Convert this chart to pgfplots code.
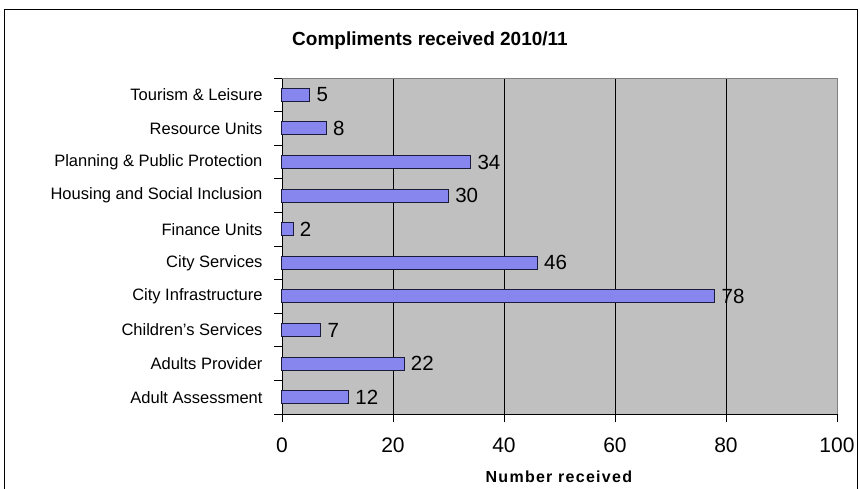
\documentclass[border=0pt]{standalone}
\usepackage{pgfplots}
\pgfplotsset{compat=1.18}
\usepackage{fontspec}
\setmainfont{Liberation Sans}
\definecolor{plotbg}{HTML}{C0C0C0}
\definecolor{barmid}{HTML}{ACACFF}
\definecolor{baredge}{HTML}{8686EE}
\definecolor{barline}{HTML}{1A1A3A}
\begin{document}
\begin{tikzpicture}[x=1pt,y=1pt]
\useasboundingbox (0,0) rectangle (860,488);
\draw[black, line width=1pt] (4,-2) -- (4,478) -- (857,478) -- (857,-2);
\node[font=\bfseries\fontsize{19}{21}\selectfont] at (430,447) {Compliments received 2010/11};
\begin{axis}[
  at={(282pt,74pt)}, anchor=south west,
  scale only axis, width=555pt, height=336pt,
  xbar, bar width=13pt,
  xmin=0, xmax=100,
  ymin=-0.5, ymax=9.5,
  axis x line*=bottom, axis y line*=left,
  axis line style={black, line width=0.8pt},
  axis background/.style={fill=plotbg},
  xtick={0,20,...,100},
  ytick={0,...,9},
  yticklabels={Adult Assessment,Adults Provider,Children's Services,City Infrastructure,City Services,Finance Units,Housing and Social Inclusion,Planning \& Public Protection,Resource Units,Tourism \& Leisure},
  minor ytick={-0.5,0.5,...,9.5},
  tick align=outside,
  major tick length=8pt, minor tick length=8pt,
  ytick style={draw=none},
  minor y tick style={draw=black, line width=0.8pt},
  xtick style={black, line width=0.8pt},
  xmajorgrids, grid style={black, line width=0.8pt},
  yticklabel style={font=\fontsize{16.5}{19}\selectfont, xshift=-8pt},
  xticklabel style={font=\fontsize{21}{24}\selectfont, yshift=-12pt},
  /pgf/number format/assume math mode=true,
  xlabel={\textbf{\addfontfeature{LetterSpace=8}Number received}},
  xlabel style={font=\fontsize{16}{18}\selectfont, yshift=-12pt},
  nodes near coords,
  nodes near coords style={font=\fontsize{20.5}{23}\selectfont, anchor=west, xshift=3pt, black},
  clip=false,
  after end axis/.code={\draw[gray, line width=0.8pt] (rel axis cs:0,1) -- (rel axis cs:1,1) -- (rel axis cs:1,0);},
]
\addplot[draw=barline, line width=1pt, top color=baredge, middle color=barmid, bottom color=baredge] coordinates {
(12,0) (22,1) (7,2) (78,3) (46,4) (2,5) (30,6) (34,7) (8,8) (5,9)};
\end{axis}
\end{tikzpicture}
\end{document}
